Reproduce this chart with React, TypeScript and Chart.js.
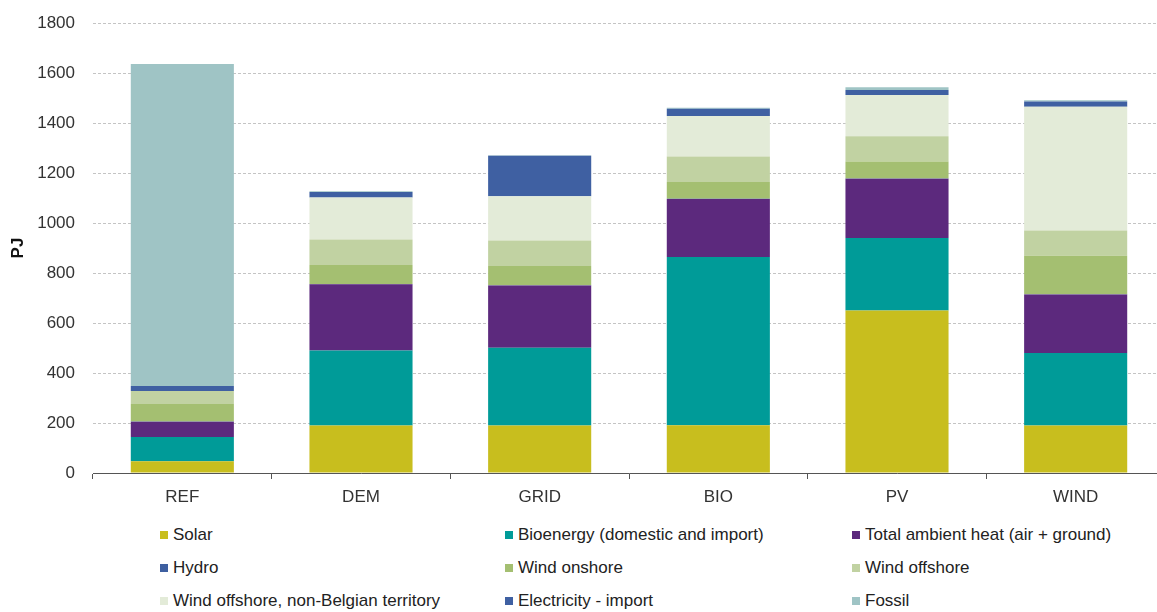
import React, { useEffect, useRef } from "react";
import { Chart, registerables } from "chart.js";

Chart.register(...registerables);

const categories = ["REF", "DEM", "GRID", "BIO", "PV", "WIND"];

const seriesLabels = [
  "Solar",
  "Bioenergy (domestic and import)",
  "Total ambient heat (air + ground)",
  "Hydro",
  "Wind onshore",
  "Wind offshore",
  "Wind offshore, non-Belgian territory",
  "Electricity - import",
  "Fossil",
];

const solar = [47, 190, 190, 191, 650, 190];
const bioenergy = [97, 300, 311, 673, 290, 290];
const ambientHeat = [61, 265, 249, 232, 237, 234];
const hydro = [1.5, 1.5, 1.5, 1.5, 1.5, 1.5];
const windOnshore = [70, 76, 77, 67, 68, 154];
const windOffshore = [52, 102, 102, 102, 101, 101];
const windOffshoreNonBE = [0, 168, 177, 162, 165, 495];
const electricityImport = [20, 22, 162, 29, 20, 21];
const fossil = [1288, 3, 2, 4, 11, 5];

const seriesValues = [
  solar,
  bioenergy,
  ambientHeat,
  hydro,
  windOnshore,
  windOffshore,
  windOffshoreNonBE,
  electricityImport,
  fossil,
];

const seriesColors = [
  "#c8be1e",
  "#009b98",
  "#5c297d",
  "#3e5fa0",
  "#a4bf71",
  "#c1d2a2",
  "#e3ebd8",
  "#3f60a2",
  "#9fc4c5",
];

const yTicks = [0, 200, 400, 600, 800, 1000, 1200, 1400, 1600, 1800];

const FONT = "'Liberation Sans', Arial, sans-serif";

export default function App() {
  const canvasRef = useRef<HTMLCanvasElement | null>(null);

  useEffect(() => {
    const canvas = canvasRef.current;
    if (!canvas) return;
    const chart = new Chart(canvas, {
      type: "bar",
      data: {
        labels: categories,
        datasets: seriesLabels.map((label, i) => ({
          label,
          data: seriesValues[i],
          backgroundColor: seriesColors[i],
          borderWidth: 0,
          categoryPercentage: 1,
          barPercentage: 0.577,
        })),
      },
      options: {
        animation: false,
        responsive: false,
        devicePixelRatio: 1,
        layout: { padding: { top: 23, right: 0, bottom: 0, left: 0 } },
        plugins: {
          legend: { display: false },
          tooltip: { enabled: false },
        },
        scales: {
          x: {
            stacked: true,
            afterFit: (s: any) => {
              s.height = 47;
            },
            grid: {
              display: true,
              drawOnChartArea: false,
              drawTicks: true,
              tickLength: 6,
              color: "#555555",
              offset: true,
            },
            border: { display: true, color: "#555555", width: 1 },
            ticks: {
              color: "#333333",
              font: { family: FONT, size: 17 },
              padding: 8,
            },
          },
          y: {
            stacked: true,
            min: 0,
            max: 1800,
            afterFit: (s: any) => {
              s.width = 93;
            },
            afterBuildTicks: (s: any) => {
              s.ticks = yTicks.map((v) => ({ value: v }));
            },
            grid: {
              color: "#c4c4c4",
              drawTicks: true,
              tickLength: 12,
              tickColor: "rgba(0,0,0,0)",
            },
            border: { display: false, dash: [3, 2] },
            ticks: {
              color: "#333333",
              font: { family: FONT, size: 17 },
              padding: 6,
              callback: (v: any) => String(v),
            },
            title: {
              display: true,
              text: "PJ",
              color: "#111111",
              font: { family: FONT, size: 17, weight: "bold" },
              padding: { top: 8, bottom: 0 },
            },
          },
        },
      },
    });
    return () => chart.destroy();
  }, []);

  const colStarts = [160, 505, 852];
  const rowCenters = [535, 568, 601];

  return (
    <div
      style={{
        position: "fixed",
        left: 0,
        top: 0,
        width: 1157,
        height: 612,
        overflow: "hidden",
        background: "#ffffff",
      }}
    >
      <canvas
        ref={canvasRef}
        width={1165}
        height={520}
        style={{ position: "absolute", left: 0, top: 0, width: 1165, height: 520 }}
      />
      {seriesLabels.map((label, i) => {
        const col = i % 3;
        const row = Math.floor(i / 3);
        return (
          <div
            key={label}
            style={{
              position: "absolute",
              left: colStarts[col],
              top: rowCenters[row] - 12,
              height: 24,
              display: "flex",
              alignItems: "center",
              whiteSpace: "nowrap",
              fontFamily: FONT,
              fontSize: 17,
              color: "#222222",
            }}
          >
            <span
              style={{
                display: "inline-block",
                width: 8,
                height: 8,
                background: seriesColors[i],
                marginRight: 5,
              }}
            />
            <span>{label}</span>
          </div>
        );
      })}
    </div>
  );
}
